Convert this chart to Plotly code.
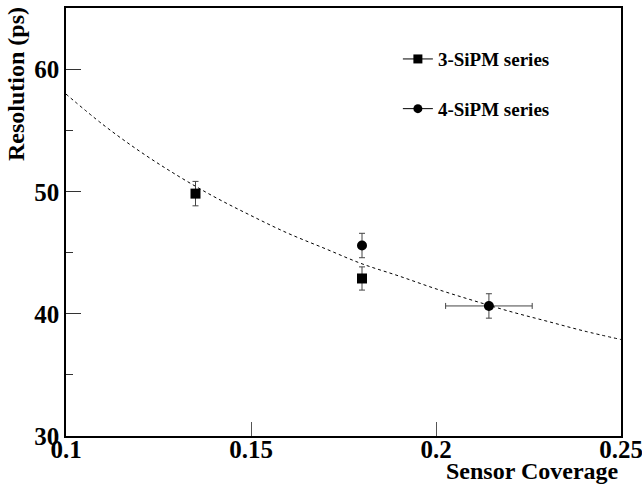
import plotly.graph_objects as go

# Data
s3_x = [0.135, 0.18]
s3_y = [49.85, 42.9]
s3_yerr = [1.0, 0.95]
s4_x = [0.18, 0.2143]
s4_y = [45.6, 40.65]
s4_yerr = [1.0, 1.0]
s4_xerr = [0.0, 0.0117]
fit_x = [0.10, 0.11, 0.12, 0.13, 0.14, 0.15, 0.16, 0.17, 0.18, 0.19, 0.20, 0.21, 0.22, 0.23, 0.24, 0.25]
fit_y = [58.0, 55.5, 53.3, 51.35, 49.6, 48.05, 46.6, 45.35, 44.1, 43.1, 42.05, 41.1, 40.2, 39.4, 38.6, 37.9]
x_ticks = [0.1, 0.15, 0.2, 0.25]
x_ticklabels = ["0.1", "0.15", "0.2", "0.25"]
y_ticks = [30, 40, 50, 60]

FONT = "Liberation Serif"

fig = go.Figure()
fig.add_trace(go.Scatter(x=fit_x, y=fit_y, mode="lines", line=dict(color="black", width=1, dash="3px,3px"),
                         line_shape="spline", showlegend=False, hoverinfo="skip"))
fig.add_trace(go.Scatter(x=s3_x, y=s3_y, mode="markers",
                         marker=dict(symbol="square", size=10, color="black"),
                         error_y=dict(type="data", array=s3_yerr, color="#444", thickness=1, width=3),
                         showlegend=False))
fig.add_trace(go.Scatter(x=s4_x, y=s4_y, mode="markers",
                         marker=dict(symbol="circle", size=10, color="black"),
                         error_y=dict(type="data", array=s4_yerr, color="#444", thickness=1, width=3),
                         error_x=dict(type="data", array=s4_xerr, color="#444", thickness=1, width=3),
                         showlegend=False))
# legend entries
fig.add_trace(go.Scatter(x=[None], y=[None], mode="lines+markers", name="3-SiPM series",
                         marker=dict(symbol="square", size=9, color="black"),
                         line=dict(color="black", width=1), legendgroup="a"))
fig.add_trace(go.Scatter(x=[None], y=[None], mode="lines+markers", name="4-SiPM series",
                         marker=dict(symbol="circle", size=9, color="black"),
                         line=dict(color="black", width=1), legendgroup="b"))

fig.update_layout(
    width=642, height=491,
    margin=dict(l=66, r=21, t=8, b=55),
    paper_bgcolor="white", plot_bgcolor="white",
    font=dict(family=FONT, size=25, color="black"),
    showlegend=True,
    legend=dict(x=0.598, y=0.925, xanchor="left", yanchor="top",
                font=dict(family=FONT, size=19, color="black", weight="bold"),
                bgcolor="rgba(0,0,0,0)", tracegroupgap=22, itemwidth=30),
    xaxis=dict(range=[0.0999999, 0.2500001], tickvals=x_ticks, ticktext=x_ticklabels,
               ticks="inside", ticklen=14, tickwidth=1, tickcolor="#555",
               showline=True, linecolor="black", linewidth=1.5, mirror=True,
               showgrid=False, zeroline=False, ticklabeloverflow="allow", automargin=False,
               ticklabelstandoff=-10,
               tickfont=dict(family=FONT, size=25, weight="bold")),
    yaxis=dict(range=[30, 65.05], tickvals=y_ticks,
               ticks="inside", ticklen=15, tickwidth=1, tickcolor="#333",
               showline=True, linecolor="black", linewidth=1.5, mirror=True,
               showgrid=False, zeroline=False, ticklabeloverflow="allow", automargin=False,
               tickfont=dict(family=FONT, size=25, weight="bold"),
               minor=dict(ticks="inside", ticklen=7, tickwidth=1, tickcolor="#333", dtick=5, tick0=30, showgrid=False)),
    annotations=[
        dict(text="Sensor Coverage", x=1.0, xref="paper", y=0, yref="paper",
             xanchor="right", yanchor="top", yshift=-20, showarrow=False,
             font=dict(family=FONT, size=24, weight="bold")),
        dict(text="Resolution (ps)", x=0, xref="paper", y=1.0, yref="paper",
             xanchor="right", yanchor="top", xshift=-35, yshift=3, textangle=-90, showarrow=False,
             font=dict(family=FONT, size=24, weight="bold")),
    ],
)

fig.write_html("out.html")
